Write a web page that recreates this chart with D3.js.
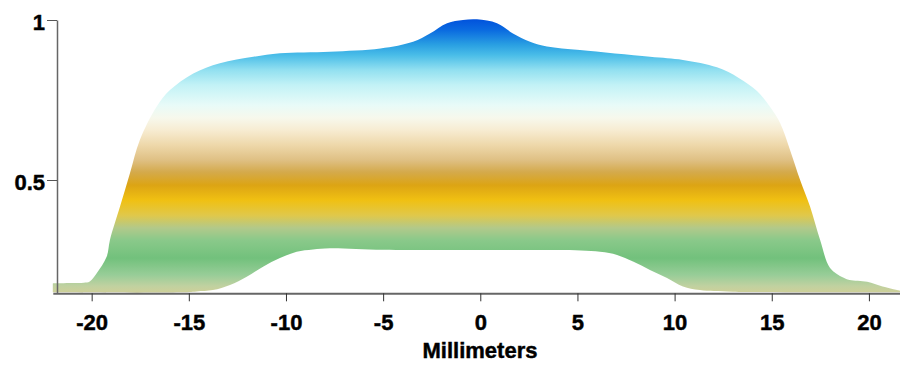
<!DOCTYPE html>
<html><head><meta charset="utf-8">
<script src="https://cdn.jsdelivr.net/npm/d3@7"></script>
<style>
body{margin:0;background:#fff}
svg{display:block}
text{font-family:"Liberation Sans",Arial,Helvetica,sans-serif;font-weight:bold;fill:#000}
</style>
</head><body>
<svg id="c" width="900" height="366"></svg>
<script>
// ---- data ----
const upperX=[-22.0,-21.0,-20.4,-20.1,-19.74,-19.23,-19.06,-18.54,-18.03,-17.52,-16.66,-15.97,-14.77,-13.4,-11.68,-10.31,-7.74,-5.14,-3.46,-2.59,-1.71,-0.89,-0.17,0.86,1.68,2.56,3.43,5.13,8.73,10.43,12.18,13.3,14.24,14.91,15.43,15.94,16.46,16.97,17.49,18.0,18.67,19.0,19.91,20.7,21.6];
const upperV=[0.177,0.178,0.179,0.183,0.209,0.26,0.3125,0.417,0.521,0.625,0.729,0.781,0.833,0.865,0.885,0.896,0.901,0.911,0.932,0.958,0.99,1.0,1.002,0.99,0.958,0.932,0.917,0.906,0.885,0.875,0.852,0.819,0.778,0.729,0.678,0.594,0.5,0.417,0.3125,0.225,0.195,0.1875,0.182,0.167,0.154];
const lowerX=[-22.0,-15.45,-14.6,-13.76,-12.88,-12.02,-11.18,-10.31,-9.45,-8.61,-7.74,-5.0,0.0,4.0,6.16,7.04,7.86,8.73,9.61,10.43,11.3,13.0,21.6];
const lowerV=[0.149,0.149,0.152,0.156,0.172,0.198,0.229,0.256,0.276,0.283,0.287,0.282,0.281,0.281,0.276,0.266,0.245,0.219,0.194,0.167,0.156,0.151,0.149];
const xTicks=[-20,-15,-10,-5,0,5,10,15,20];
const yTicks=[0.5,1];
const xLabel="Millimeters";
// colour ramp by value
const stopVals=[1.005,0.969,0.922,0.89,0.844,0.797,0.734,0.694,0.656,0.609,0.5625,0.525,0.484,0.4375,0.39,0.35,0.3125,0.256,0.203,0.169,0.146];
const stopCols=["#0050dc","#0a6ae0","#2aa0e2","#4abde8","#92e0f0","#c2f2f6","#e8fbf8","#f7f8ec","#f7ecd2","#eed8aa","#dfc084","#d4aa4c","#dca414","#f0c012","#e0c84a","#b2c98a","#8ac98a","#72c17c","#98cd98","#c0d1a0","#d0d098"];

// ---- scales ----
const svg=d3.select("#c");
const x=d3.scaleLinear().domain([-22,21.6]).range([52.8,900]);
const y=d3.scaleLinear().domain([0.146,1]).range([293.3,20]);

const defs=svg.append("defs");
const y0=y(stopVals[0]), y1=y(stopVals[stopVals.length-1]);
const grad=defs.append("linearGradient").attr("id","g")
  .attr("gradientUnits","userSpaceOnUse").attr("x1",0).attr("x2",0)
  .attr("y1",y0).attr("y2",y1);
stopVals.forEach((v,i)=>grad.append("stop")
  .attr("offset",(y(v)-y0)/(y1-y0)).attr("stop-color",stopCols[i]));

const up=upperX.map((d,i)=>[x(d),y(upperV[i])]);
const lo=lowerX.map((d,i)=>[x(d),y(lowerV[i])]).reverse();
const line=d3.line().curve(d3.curveCatmullRom.alpha(0.5));
const pathD=line(up)+"L"+line(lo).slice(1)+"Z";

// ---- shape ----
svg.append("path").attr("d",pathD).attr("fill","url(#g)");

// ---- axes ----
const fontStyle=sel=>sel.attr("font-size",22)
  .style("font-family",'"Liberation Sans",Arial,sans-serif').style("font-weight","bold")
  .attr("fill","#000").attr("stroke","#000").attr("stroke-width",0.45);

const xAxis=svg.append("g").attr("transform","translate(0,293.3)")
  .call(d3.axisBottom(x).tickValues(xTicks).tickSize(8).tickSizeOuter(0).tickFormat(d=>String(d)));
xAxis.select(".domain").attr("stroke","#666").attr("stroke-width",2);
xAxis.selectAll(".tick line").attr("stroke","#333").attr("stroke-width",1);
xAxis.selectAll(".tick text").attr("y",36.7).attr("dy",0).call(fontStyle);

const yAxis=svg.append("g").attr("transform","translate(57,0)")
  .call(d3.axisLeft(y).tickValues(yTicks).tickSize(10).tickSizeOuter(0).tickFormat(d=>String(d)));
yAxis.select(".domain").attr("stroke","#666").attr("stroke-width",1.5);
yAxis.selectAll(".tick line").attr("stroke","#555").attr("stroke-width",1);
yAxis.selectAll(".tick text").attr("x",-12).attr("dy",9.5).call(fontStyle);

svg.append("text").attr("x",480).attr("y",358).attr("text-anchor","middle")
  .text(xLabel).call(fontStyle);
</script>
</body></html>
